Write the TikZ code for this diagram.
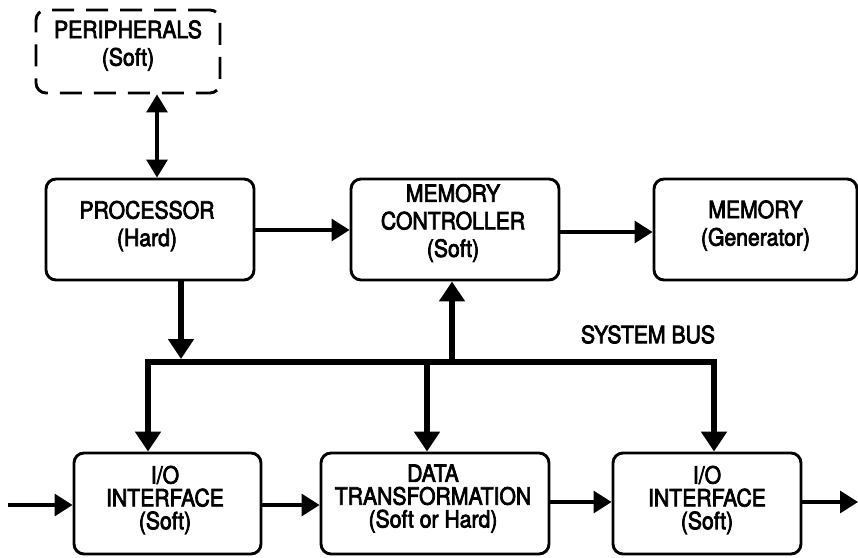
\documentclass[tikz,border=0pt]{standalone}
\usepackage{fontspec}
\setmainfont{TeX Gyre Heros}[FakeStretch=0.89, FakeBold=3]
\usetikzlibrary{arrows.meta}

\begin{document}
\begin{tikzpicture}[x=1pt,y=-1pt,
  blk/.style={draw, line width=2.9pt, rounded corners=10pt, inner sep=0pt, minimum height=101pt},
  dblk/.style={blk, dash pattern=on 22pt off 12pt},
  txt/.style={align=center, inner sep=0pt, font=\fontsize{23.8}{27.5}\selectfont},
  txtb/.style={align=center, inner sep=0pt, font=\fontsize{23.8}{22.8}\selectfont},
  conn/.style={line width=3.2pt, -{Triangle[length=18pt,width=22pt]}},
  bus/.style={line width=6pt},
  busarr/.style={line width=6pt, -{Triangle[length=20pt,width=25pt]}}]
\useasboundingbox (0,0) rectangle (858,557);

% top row
\node[dblk, minimum width=184pt, minimum height=83pt] (per) at (128,51.5) {};
\node[txt] (per-t) at (128,45.5) {PERIPHERALS\\(Soft)};

\node[blk, minimum width=208pt] (proc) at (150,229.5) {};
\node[txt] (proc-t) at (147,226) {PROCESSOR\\(Hard)};

\node[blk, minimum width=208pt] (mc) at (455,229.5) {};
\node[txt] (mc-t) at (453,223) {MEMORY\\CONTROLLER\\(Soft)};

\node[blk, minimum width=203pt] (mem) at (755.5,229.5) {};
\node[txt] (mem-t) at (755.5,225.5) {MEMORY\\(Generator)};

% bottom row
\node[blk, minimum width=187pt] (io1) at (167.5,503.5) {};
\node[txtb] (io1-t) at (165,500) {I/O\\INTERFACE\\(Soft)};

\node[blk, minimum width=228pt] (dt) at (435,503.5) {};
\node[txtb] (dt-t) at (433,498.5) {DATA\\TRANSFORMATION\\(Soft or Hard)};

\node[blk, minimum width=188pt] (io2) at (707,503.5) {};
\node[txtb] (io2-t) at (707,500) {I/O\\INTERFACE\\(Soft)};

\node[txt] (sb) at (648,334.5) {SYSTEM BUS};

% system bus
\coordinate (bl) at (148,362);
\coordinate (br) at (714,362);
\coordinate (bp) at (181,362);
\coordinate (bm) at (452,362);
\coordinate (bd) at (427,362);
\draw[bus] ([xshift=-3pt]bl) -- ([xshift=3pt]br);
\draw[busarr] (proc.south -| bp) -- ([yshift=3pt]bp);
\draw[busarr] (bm) -- (mc.south -| bm);
\draw[busarr] (bl) -- (io1.north -| bl);
\draw[busarr] (bd) -- (dt.north -| bd);
\draw[busarr] (br) -- (io2.north -| br);

% point-to-point links
\coordinate (pa) at (157,93);
\draw[conn, {Triangle[length=18pt,width=21pt]}-{Triangle[length=18pt,width=21pt]}] (per.south -| pa) -- (proc.north -| pa);
\coordinate (ya) at (0,230);
\draw[conn] (proc.east |- ya) -- (mc.west |- ya);
\coordinate (yb) at (0,232);
\draw[conn] (mc.east |- yb) -- (mem.west |- yb);

\coordinate (in) at (8,505);
\draw[conn] (in) -- (io1.west |- in);
\draw[conn] (io1.east |- in) -- (dt.west |- in);
\coordinate (yc) at (0,502);
\draw[conn] (dt.east |- yc) -- (io2.west |- yc);
\coordinate (out) at (858,502);
\draw[conn] (io2.east |- yc) -- (out);
\end{tikzpicture}
\end{document}
